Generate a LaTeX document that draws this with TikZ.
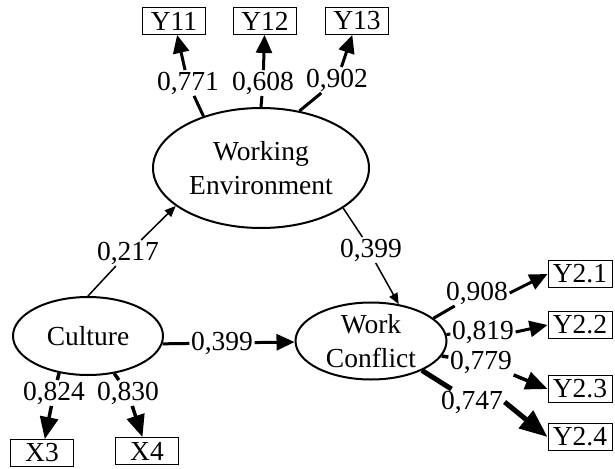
\documentclass[tikz,border=0pt]{standalone}
\usepackage{fontspec}
\setmainfont{Liberation Serif}
\usetikzlibrary{shapes.geometric,arrows.meta}

\tikzset{
  latent/.style={ellipse,draw,line width=2pt,inner sep=0pt,align=center},
  manifest/.style={rectangle,draw,line width=0.9pt,minimum width=63pt,minimum height=27pt,inner sep=0pt},
  coef/.style={inner sep=1.5pt},
  thinarrow/.style={line width=1.5pt,-{Triangle[length=11pt,width=9pt]}},
  midarrow/.style={line width=3pt,-{Triangle[length=18pt,width=16pt]}},
  bigarrow/.style={line width=3.5pt,-{Triangle[length=22pt,width=18pt]}},
  hugearrow/.style={line width=5pt,-{Triangle[length=28pt,width=22pt]}}
}

\begin{document}
\begin{tikzpicture}[x=1pt,y=-1pt,font=\fontsize{27.5}{34}\selectfont]
        \useasboundingbox (0,0) rectangle (615,468);

        % latent variables
        \node[latent,minimum width=216pt,minimum height=120pt] (we) at (261,168) {Working\\Environment};
        \node[latent,minimum width=150pt,minimum height=78pt] (cul) at (88,336) {Culture};
        \node[latent,minimum width=151pt,minimum height=77pt] (wc) at (371,341) {Work\\Conflict};

        % indicators
        \node[manifest] (y11) at (174,21) {Y11};
        \node[manifest] (y12) at (265,21) {Y12};
        \node[manifest] (y13) at (357,21) {Y13};
        \node[manifest] (x3) at (42,453) {X3};
        \node[manifest] (x4) at (147,451) {X4};
        \node[manifest,minimum width=64pt] (y21) at (580,274) {Y2.1};
        \node[manifest,minimum width=64pt] (y22) at (580,325) {Y2.2};
        \node[manifest,minimum width=64pt] (y23) at (580,389) {Y2.3};
        \node[manifest,minimum width=64pt] (y24) at (580,437) {Y2.4};

        % coefficients
        \node[coef] (l771) at (188,83) {0,771};
        \node[coef] (l608) at (263,83) {0,608};
        \node[coef] (l902) at (337,80) {0,902};
        \node[coef] (l217) at (128,253) {0,217};
        \node[coef] (l399a) at (371,250) {0,399};
        \node[coef] (l399b) at (222,343) {0,399};
        \node[coef] (l908) at (477,293) {0,908};
        \node[coef] (l819) at (483,332) {0,819};
        \node[coef] (l779) at (481,362) {0,779};
        \node[coef] (l747) at (472,402) {0,747};
        \node[coef] (l824) at (54,393) {0,824};
        \node[coef] (l830) at (128,393) {0,830};

        % structural paths
        \draw[line width=1.5pt] (cul.north) -- (l217);
        \draw[thinarrow] (l217) -- (we.-156);

        \draw[line width=1.5pt] (we.-26) -- (l399a);
        \draw[thinarrow] (l399a.-70) -- (wc.53);

        \draw[line width=3pt] (cul.-6) -- (l399b);
        \draw[midarrow] (l399b) -- (wc);

        % loadings
        \draw[line width=3pt] (we.138) -- (l771);
        \draw[midarrow] (l771) -- (y11);
        \draw[line width=3pt] (we.north) -- (l608);
        \draw[midarrow] (l608) -- (y12);
        \draw[line width=3pt] (we.56) -- (l902);
        \draw[midarrow] (l902) -- (y13);

        \draw[line width=3.5pt] (cul.-128) -- (l824);
        \draw[bigarrow] (l824) -- (x3);
        \draw[line width=3.5pt] (cul.-55) -- (l830);
        \draw[bigarrow] (l830) -- (x4);

        \draw[line width=3pt] (wc.20) -- (l908);
        \draw[midarrow] (l908.east) -- (y21.west);
        \draw[line width=3pt] (wc.5) -- (l819);
        \draw[midarrow] (l819.east) -- (y22.west);
        \draw[line width=3.5pt] (wc.-12) -- (l779);
        \draw[bigarrow] (l779.south east) -- (y23.west);
        \draw[line width=5pt] (wc.-30) -- (l747);
        \draw[hugearrow] (l747.east) -- (y24.west);

\end{tikzpicture}
\end{document}
